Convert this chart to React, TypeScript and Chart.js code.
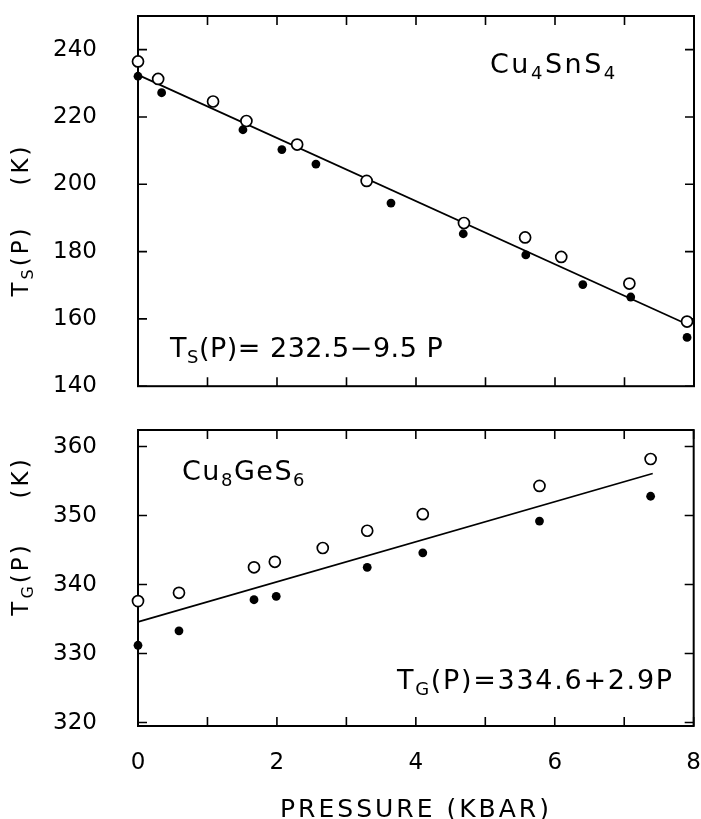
import React, { useEffect, useRef } from 'react';
import { Chart, registerables } from 'chart.js';

Chart.register(...registerables);

const FONT = "'DejaVu Sans', sans-serif";

// Pressure axis (kbar)
const PRESSURE_TICKS = [0, 1, 2, 3, 4, 5, 6, 7, 8];
const PRESSURE_LABELS = ['0', '', '2', '', '4', '', '6', '', '8'];
// Temperature axes (K)
const TS_TICKS = [140, 160, 180, 200, 220, 240];
const TG_TICKS = [320, 330, 340, 350, 360];

// Cu4SnS4
const TS_OPEN_P = [0, 0.29, 1.08, 1.56, 2.29, 3.29, 4.69, 5.57, 6.09, 7.07, 7.9];
const TS_OPEN_T = [236.5, 231.3, 224.6, 218.8, 211.8, 201.0, 188.5, 184.2, 178.4, 170.5, 159.2];
const TS_FILLED_P = [0, 0.34, 1.51, 2.07, 2.56, 3.64, 4.68, 5.58, 6.4, 7.09, 7.9];
const TS_FILLED_T = [232.1, 227.2, 216.2, 210.3, 206.0, 194.4, 185.3, 179.0, 170.2, 166.5, 154.5];
const TS_FIT_P = [0, 7.9];
const TS_FIT_T = [232.5, 158.4];

// Cu8GeS6
const TG_OPEN_P = [0, 0.59, 1.67, 1.97, 2.66, 3.3, 4.1, 5.78, 7.38];
const TG_OPEN_T = [337.6, 338.8, 342.5, 343.3, 345.3, 347.8, 350.2, 354.3, 358.2];
const TG_FILLED_P = [0, 0.59, 1.67, 1.99, 3.3, 4.1, 5.78, 7.38];
const TG_FILLED_T = [331.2, 333.3, 337.8, 338.3, 342.5, 344.6, 349.2, 352.8];
const TG_FIT_P = [0, 7.41];
const TG_FIT_T = [334.6, 356.1];

type Part = { t?: string; sub?: boolean; gap?: number };
type Label = {
  parts: Part[];
  x: number;
  y: number;
  size: number;
  spacing: number;
  align?: 'left' | 'center';
  rotate?: boolean;
};

function drawRich(ctx: CanvasRenderingContext2D, lab: Label) {
  ctx.save();
  ctx.fillStyle = '#000';
  ctx.textBaseline = 'alphabetic';
  ctx.textAlign = 'left';
  (ctx as any).letterSpacing = lab.spacing + 'px';
  const subSize = Math.round(lab.size * 0.68);
  const widths = lab.parts.map((p) => {
    if (p.gap) return p.gap;
    ctx.font = `${p.sub ? subSize : lab.size}px ${FONT}`;
    return ctx.measureText(p.t || '').width;
  });
  const total = widths.reduce((a, b) => a + b, 0);
  ctx.translate(lab.x, lab.y);
  if (lab.rotate) ctx.rotate(-Math.PI / 2);
  let u = lab.align === 'center' ? -total / 2 : 0;
  lab.parts.forEach((p, i) => {
    if (p.t) {
      ctx.font = `${p.sub ? subSize : lab.size}px ${FONT}`;
      ctx.fillText(p.t, u, p.sub ? lab.size * 0.22 : 0);
    }
    u += widths[i];
  });
  ctx.restore();
}

const framePlugin = {
  id: 'frameTicks',
  beforeDatasetsDraw(chart: any) {
    const { ctx, chartArea: a, scales } = chart;
    ctx.save();
    ctx.strokeStyle = '#000';
    ctx.lineWidth = 2;
    ctx.strokeRect(a.left, a.top, a.right - a.left, a.bottom - a.top);
    ctx.lineWidth = 1.6;
    const tl = 9;
    ctx.beginPath();
    scales.x.ticks.forEach((t: any) => {
      const px = scales.x.getPixelForValue(t.value);
      ctx.moveTo(px, a.bottom);
      ctx.lineTo(px, a.bottom - tl);
      ctx.moveTo(px, a.top);
      ctx.lineTo(px, a.top + tl);
    });
    scales.y.ticks.forEach((t: any) => {
      const py = scales.y.getPixelForValue(t.value);
      ctx.moveTo(a.left, py);
      ctx.lineTo(a.left + tl, py);
      ctx.moveTo(a.right, py);
      ctx.lineTo(a.right - tl, py);
    });
    ctx.stroke();
    ctx.restore();
  },
  afterDraw(chart: any) {
    const labels: Label[] = chart.options.plugins.richText?.labels || [];
    labels.forEach((l) => drawRich(chart.ctx, l));
  },
};

function pts(P: number[], T: number[]) {
  return P.map((p, i) => ({ x: p, y: T[i] }));
}

const HIDDEN = 'rgba(0,0,0,0)';
const Y_LABEL_LEFT = 53;

function makeConfig(opts: {
  openP: number[]; openT: number[];
  filledP: number[]; filledT: number[];
  fitP: number[]; fitT: number[];
  yMin: number; yMax: number; yTicks: number[];
  padTop: number; xHeight: number; showX: boolean;
  labels: Label[];
}): any {
  return {
    type: 'scatter',
    data: {
      datasets: [
        {
          data: pts(opts.openP, opts.openT),
          pointRadius: 5.5,
          pointBackgroundColor: '#fff',
          pointBorderColor: '#000',
          pointBorderWidth: 1.7,
          clip: false,
        },
        {
          data: pts(opts.filledP, opts.filledT),
          pointRadius: 4.4,
          pointBackgroundColor: '#000',
          pointBorderColor: '#000',
          pointBorderWidth: 0,
          clip: false,
        },
        {
          data: pts(opts.fitP, opts.fitT),
          showLine: true,
          pointRadius: 0,
          borderColor: '#000',
          borderWidth: 1.7,
          clip: false,
        },
      ],
    },
    options: {
      animation: false,
      responsive: false,
      maintainAspectRatio: false,
      events: [],
      layout: { padding: { top: opts.padTop, right: 7, bottom: 0, left: Y_LABEL_LEFT }, autoPadding: false },
      plugins: {
        legend: { display: false },
        tooltip: { enabled: false },
        richText: { labels: opts.labels },
      },
      scales: {
        x: {
          type: 'linear',
          min: 0,
          max: 8,
          afterBuildTicks: (s: any) => {
            s.ticks = PRESSURE_TICKS.map((v) => ({ value: v }));
          },
          afterFit: (s: any) => {
            s.height = opts.xHeight;
          },
          grid: { display: true, drawOnChartArea: false, drawTicks: true, tickLength: 23, color: HIDDEN },
          border: { display: false },
          ticks: {
            display: opts.showX,
            padding: 0,
            color: '#000',
            maxRotation: 0,
            autoSkip: false,
            font: { family: FONT, size: 23 },
            callback: (_v: any, i: number) => PRESSURE_LABELS[i],
          },
        },
        y: {
          type: 'linear',
          min: opts.yMin,
          max: opts.yMax,
          afterBuildTicks: (s: any) => {
            s.ticks = opts.yTicks.map((v) => ({ value: v }));
          },
          afterFit: (s: any) => {
            s.width = 138 - Y_LABEL_LEFT;
          },
          grid: { display: false, drawOnChartArea: false, drawTicks: false },
          border: { display: false },
          ticks: {
            padding: 0,
            crossAlign: 'far',
            color: '#000',
            autoSkip: false,
            font: { family: FONT, size: 23 },
            callback: (v: any) => String(v),
          },
        },
      },
    },
    plugins: [framePlugin],
  };
}

const TOP_LABELS: Label[] = [
  { parts: [{ t: 'Cu' }, { t: '4', sub: true }, { t: 'SnS' }, { t: '4', sub: true }], x: 490, y: 73, size: 27, spacing: 2.5 },
  { parts: [{ t: 'T' }, { t: 'S', sub: true }, { t: '(P)= 232.5−9.5 P' }], x: 170, y: 357, size: 27, spacing: 0.5 },
  { parts: [{ t: 'T' }, { t: 'S', sub: true }, { t: '(P)' }, { gap: 40 }, { t: '(K)' }], x: 28, y: 220, size: 23, spacing: 3, align: 'center', rotate: true },
];

const BOTTOM_LABELS: Label[] = [
  { parts: [{ t: 'Cu' }, { t: '8', sub: true }, { t: 'GeS' }, { t: '6', sub: true }], x: 182, y: 80, size: 27, spacing: 1.5 },
  { parts: [{ t: 'T' }, { t: 'G', sub: true }, { t: '(P)=334.6+2.9P' }], x: 397, y: 289, size: 27, spacing: 1.7 },
  { parts: [{ t: 'T' }, { t: 'G', sub: true }, { t: '(P)' }, { gap: 44 }, { t: '(K)' }], x: 28, y: 136, size: 23, spacing: 3, align: 'center', rotate: true },
  { parts: [{ t: 'PRESSURE (KBAR)' }], x: 416, y: 417, size: 25, spacing: 3, align: 'center' },
];

export default function App() {
  const topRef = useRef<HTMLCanvasElement>(null);
  const botRef = useRef<HTMLCanvasElement>(null);

  useEffect(() => {
    const top = new Chart(
      topRef.current as HTMLCanvasElement,
      makeConfig({
        openP: TS_OPEN_P, openT: TS_OPEN_T,
        filledP: TS_FILLED_P, filledT: TS_FILLED_T,
        fitP: TS_FIT_P, fitT: TS_FIT_T,
        yMin: 140, yMax: 250, yTicks: TS_TICKS,
        padTop: 16, xHeight: 6, showX: false,
        labels: TOP_LABELS,
      })
    );
    const bot = new Chart(
      botRef.current as HTMLCanvasElement,
      makeConfig({
        openP: TG_OPEN_P, openT: TG_OPEN_T,
        filledP: TG_FILLED_P, filledT: TG_FILLED_T,
        fitP: TG_FIT_P, fitT: TG_FIT_T,
        yMin: 319.5, yMax: 362.4, yTicks: TG_TICKS,
        padTop: 30, xHeight: 93, showX: true,
        labels: BOTTOM_LABELS,
      })
    );
    return () => {
      top.destroy();
      bot.destroy();
    };
  }, []);

  return (
    <div style={{ position: 'absolute', left: 0, top: 0, width: 701, height: 819, background: '#fff' }}>
      <canvas ref={topRef} width={701} height={400} style={{ position: 'absolute', left: 0, top: 0, display: 'block' }} />
      <canvas ref={botRef} width={701} height={419} style={{ position: 'absolute', left: 0, top: 400, display: 'block' }} />
    </div>
  );
}
